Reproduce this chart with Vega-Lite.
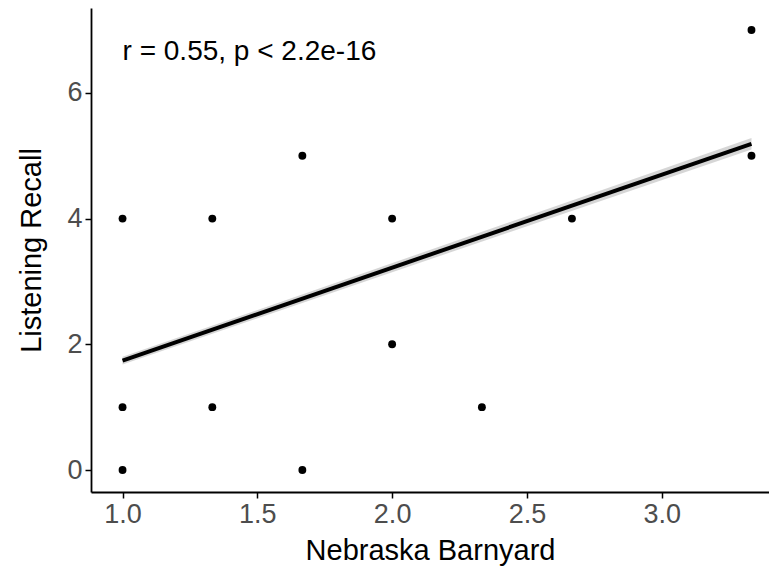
{
  "$schema": "https://vega.github.io/schema/vega-lite/v6.json",
  "width": 678,
  "height": 484,
  "autosize": {"type": "none"},
  "padding": {"left": 91, "top": 8, "right": 0, "bottom": 88},
  "background": "white",
  "config": {
    "view": {"stroke": null},
    "font": "Liberation Sans",
    "axis": {
      "grid": false,
      "domainColor": "black",
      "domainWidth": 1.8,
      "tickColor": "black",
      "tickWidth": 1.5,
      "tickSize": 6,
      "labelColor": "#4d4d4d",
      "labelFont": "Liberation Sans",
      "labelFontSize": 27,
      "labelPadding": 3,
      "titleColor": "black",
      "titleFont": "Liberation Sans",
      "titleFontSize": 29,
      "titleFontWeight": "normal"
    }
  },
  "datasets": {
    "points": [
      {"nb": 1.0, "lr": 4}, {"nb": 1.0, "lr": 1}, {"nb": 1.0, "lr": 0},
      {"nb": 1.333, "lr": 4}, {"nb": 1.333, "lr": 1},
      {"nb": 1.667, "lr": 5}, {"nb": 1.667, "lr": 0},
      {"nb": 2.0, "lr": 4}, {"nb": 2.0, "lr": 2},
      {"nb": 2.333, "lr": 1}, {"nb": 2.667, "lr": 4},
      {"nb": 3.333, "lr": 7}, {"nb": 3.333, "lr": 5}
    ],
    "fit": [
      {"nb": 1.0, "fit": 1.74, "lo": 1.68, "hi": 1.80},
      {"nb": 3.333, "fit": 5.19, "lo": 5.10, "hi": 5.28}
    ],
    "label": [
      {"nb": 1.0, "lr": 6.65, "text": "r = 0.55, p < 2.2e-16"}
    ]
  },
  "layer": [
    {
      "data": {"name": "fit"},
      "mark": {"type": "area", "color": "#999999", "opacity": 0.4},
      "encoding": {
        "x": {"field": "nb", "type": "quantitative"},
        "y": {"field": "lo", "type": "quantitative"},
        "y2": {"field": "hi"}
      }
    },
    {
      "data": {"name": "points"},
      "mark": {"type": "circle", "color": "black", "opacity": 1, "size": 62},
      "encoding": {
        "x": {
          "field": "nb", "type": "quantitative",
          "scale": {"domain": [0.883, 3.398], "nice": false, "zero": false},
          "axis": {"values": [1.0, 1.5, 2.0, 2.5, 3.0], "format": ".1f", "title": "Nebraska Barnyard", "titlePadding": 9}
        },
        "y": {
          "field": "lr", "type": "quantitative",
          "scale": {"domain": [-0.35, 7.35], "nice": false, "zero": false},
          "axis": {"values": [0, 2, 4, 6], "format": "d", "title": "Listening Recall", "titlePadding": 20}
        }
      }
    },
    {
      "data": {"name": "fit"},
      "mark": {"type": "line", "color": "black", "strokeWidth": 4},
      "encoding": {
        "x": {"field": "nb", "type": "quantitative"},
        "y": {"field": "fit", "type": "quantitative"}
      }
    },
    {
      "data": {"name": "label"},
      "mark": {"type": "text", "align": "left", "baseline": "middle", "fontSize": 28, "color": "black", "font": "Liberation Sans"},
      "encoding": {
        "x": {"field": "nb", "type": "quantitative"},
        "y": {"field": "lr", "type": "quantitative"},
        "text": {"field": "text"}
      }
    }
  ]
}
